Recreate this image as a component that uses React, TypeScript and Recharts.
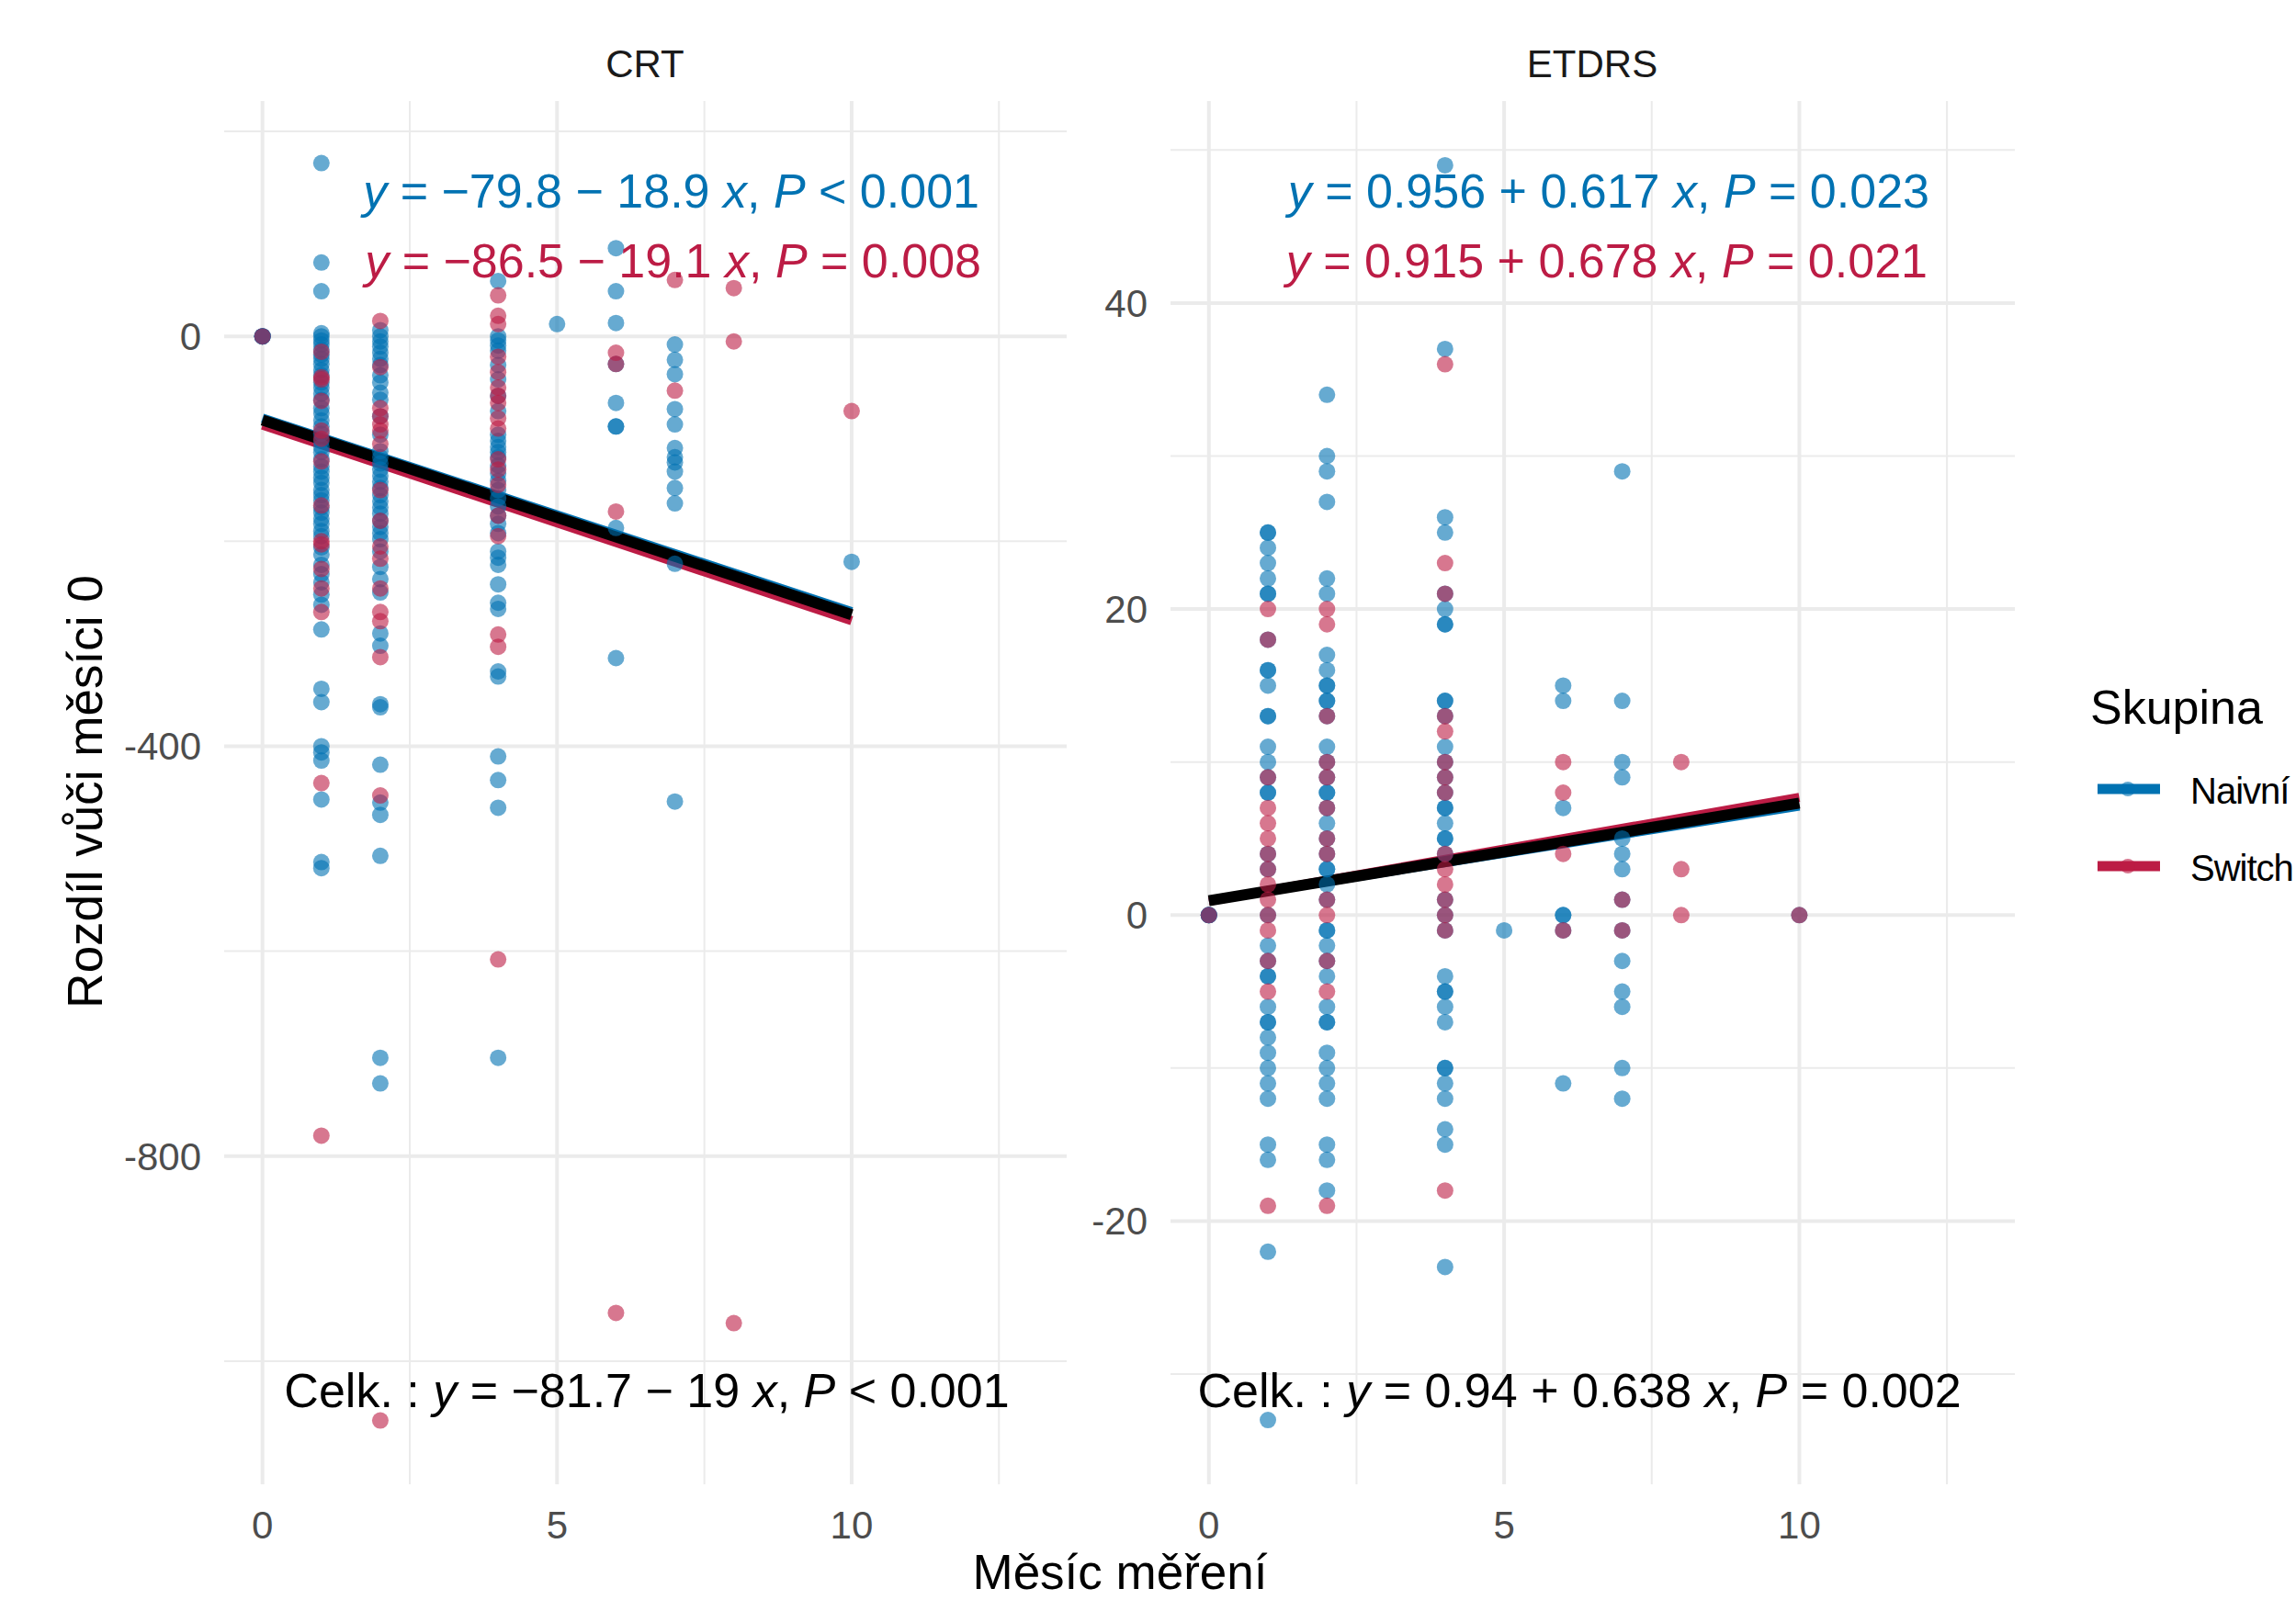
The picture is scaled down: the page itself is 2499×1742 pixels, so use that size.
import React from 'react';
import {
    ScatterChart,
    Scatter,
    XAxis,
    YAxis,
    ReferenceLine
} from 'recharts';

const BLUE = '#0072B2';
const RED = '#BC1C45';
const FONT = '"Liberation Sans", Arial, Helvetica, sans-serif';
const GRID = '#EBEBEB';

// month -> values (CRT, µm difference vs month 0)
const crtNaivni: Record<number, number[]> = {
    0: [0, 0, 0, 0, 0],
    1: [169, 72, 44, 3, 0, -4, -8, -13, -18, -22, -27, -33, -38, -45, -50, -56, -62, -70, -75, -82, -88, -95, -102, -108, -113, -120, -127, -132, -138, -143, -150, -155, -160, -167, -172, -178, -183, -190, -195, -206, -213, -223, -232, -240, -252, -262, -286, -344, -357, -400, -406, -414, -452, -513, -519],
    2: [6, 0, -5, -10, -16, -22, -28, -38, -45, -55, -62, -78, -96, -112, -118, -124, -130, -136, -142, -148, -155, -161, -167, -173, -180, -186, -192, -198, -210, -225, -237, -250, -290, -302, -359, -362, -418, -455, -467, -507, -704, -729],
    4: [54, 0, -4, -9, -14, -28, -42, -58, -73, -96, -102, -108, -113, -118, -126, -134, -141, -150, -158, -166, -175, -183, -192, -210, -216, -223, -242, -260, -266, -327, -332, -410, -433, -460, -704],
    5: [12],
    6: [86, 44, 13, -27, -65, -88, -88, -187, -314],
    7: [-8, -23, -37, -71, -86, -109, -118, -123, -132, -148, -163, -222, -454],
    10: [-220],
};

const crtSwitch: Record<number, number[]> = {
    0: [0],
    1: [-15, -40, -42, -63, -92, -100, -122, -165, -200, -203, -227, -246, -269, -436, -780],
    2: [15, -30, -70, -78, -86, -92, -105, -150, -180, -205, -217, -246, -269, -278, -313, -448, -1058],
    4: [40, 20, 12, -20, -35, -50, -58, -65, -80, -90, -120, -130, -145, -175, -195, -291, -303, -608],
    6: [-16, -27, -171, -953],
    7: [55, -53],
    8: [47, -5, -963],
    10: [-73],
};

// month -> values (ETDRS letters difference vs month 0)
const etdrsNaivni: Record<number, number[]> = {
    0: [0, 0, 0, 0],
    1: [25, 25, 24, 23, 22, 21, 21, 18, 16, 16, 15, 13, 13, 11, 10, 9, 8, 8, 4, 3, 0, -2, -3, -4, -4, -6, -7, -7, -8, -9, -10, -11, -12, -15, -16, -22, -33],
    2: [34, 30, 29, 27, 22, 21, 17, 16, 15, 15, 14, 14, 13, 11, 10, 9, 8, 8, 7, 6, 5, 4, 3, 3, 2, 1, -1, -1, -2, -3, -4, -6, -7, -7, -9, -10, -11, -12, -15, -16, -18],
    4: [49, 37, 26, 25, 21, 20, 19, 19, 14, 14, 13, 11, 10, 9, 8, 7, 7, 6, 5, 5, 4, 1, 0, -1, -4, -5, -5, -6, -7, -10, -10, -11, -12, -14, -15, -23],
    5: [-1],
    6: [15, 14, 7, 0, 0, -1, -11],
    7: [29, 14, 10, 9, 5, 4, 3, 1, -1, -3, -5, -6, -10, -12],
    10: [0],
};

const etdrsSwitch: Record<number, number[]> = {
    0: [0],
    1: [20, 18, 9, 7, 6, 5, 4, 3, 2, 1, 0, -1, -3, -5, -19],
    2: [20, 19, 13, 10, 9, 7, 5, 4, 1, 0, -3, -5, -19],
    4: [36, 23, 21, 13, 12, 10, 9, 8, 4, 3, 2, 1, 0, -1, -18],
    6: [10, 8, 4, -1],
    7: [1, -1],
    8: [10, 3, 0],
    10: [0],
};

// [intercept, slope] of the fitted lines
const crtFits = { naivni: [-79.8, -18.9], switch: [-86.5, -19.1], celk: [-81.7, -19] };
const etdrsFits = { naivni: [0.956, 0.617], switch: [0.915, 0.678], celk: [0.94, 0.638] };
const crtP = ['< 0.001', '= 0.008', '< 0.001'];
const etdrsP = ['= 0.023', '= 0.021', '= 0.002'];

const xTicks = [0, 5, 10];
const xMinor = [2.5, 7.5, 12.5];
const crtTicks = [-800, -400, 0];
const crtMinor = [-1000, -600, -200, 200];
const etdrsTicks = [-20, 0, 20, 40];
const etdrsMinor = [-30, -10, 10, 30, 50];

const toPoints = (d: Record<number, number[]>) =>
    Object.keys(d).flatMap((m) => d[Number(m)].map((v) => ({ x: Number(m), y: v })));

const dot = (color: string) => (props: any) =>
    <circle cx={props.cx} cy={props.cy} r={9} fill={color} fillOpacity={0.6} />;

const num = (v: number) => String(Math.abs(v));

function Eq({ fit, p, color, prefix }: { fit: number[]; p: string; color: string; prefix?: string }) {
    const [a, b] = fit;
    return (
        <span style={{ color }}>
            {prefix}
            <i>y</i> = {a < 0 ? '\u2212' : ''}{num(a)} {b < 0 ? '\u2212' : '+'} {num(b)} <i>x</i>, <i>P</i> {p}
        </span>
    );
}

interface PanelProps {
    left: number;
    width: number;
    axisWidth: number;
    naivni: Record<number, number[]>;
    sw: Record<number, number[]>;
    fits: { naivni: number[]; switch: number[]; celk: number[] };
    yDomain: [number, number];
    yTicks: number[];
    yMinor: number[];
}

function Panel({ left, width, axisWidth, naivni, sw, fits, yDomain, yTicks, yMinor }: PanelProps) {
    const seg = (f: number[]) => [{ x: 0, y: f[0] }, { x: 10, y: f[0] + 10 * f[1] }];
    const tick = { fill: '#4D4D4D', fontSize: 42, fontFamily: FONT };
    return (
        <div style={{ position: 'absolute', left, top: 0 }}>
            <ScatterChart width={width} height={1742} margin={{ top: 110, right: 0, bottom: 0, left: 0 }}>
                <XAxis
                    type="number"
                    dataKey="x"
                    domain={[-0.65, 13.65]}
                    ticks={xTicks}
                    interval={0}
                    allowDataOverflow
                    axisLine={false}
                    tickLine={false}
                    tickSize={0}
                    tickMargin={29}
                    height={126}
                    tick={tick}
                />
                <YAxis
                    type="number"
                    dataKey="y"
                    domain={yDomain}
                    ticks={yTicks}
                    interval={0}
                    allowDataOverflow
                    axisLine={false}
                    tickLine={false}
                    tickSize={0}
                    tickMargin={25}
                    width={axisWidth}
                    tick={tick}
                />
                {/* minor grid */}
                {xMinor.map((v) => (
                    <ReferenceLine key={'vx' + v} x={v} stroke={GRID} strokeWidth={2} />
                ))}
                {yMinor.map((v) => (
                    <ReferenceLine key={'hy' + v} y={v} stroke={GRID} strokeWidth={2} />
                ))}
                {/* major grid */}
                {xTicks.map((v) => (
                    <ReferenceLine key={'VX' + v} x={v} stroke={GRID} strokeWidth={4} />
                ))}
                {yTicks.map((v) => (
                    <ReferenceLine key={'HY' + v} y={v} stroke={GRID} strokeWidth={4} />
                ))}
                <Scatter data={toPoints(naivni)} shape={dot(BLUE)} isAnimationActive={false} />
                <Scatter data={toPoints(sw)} shape={dot(RED)} isAnimationActive={false} />
                <ReferenceLine segment={seg(fits.naivni)} stroke={BLUE} strokeWidth={10} />
                <ReferenceLine segment={seg(fits.switch)} stroke={RED} strokeWidth={10} />
                <ReferenceLine segment={seg(fits.celk)} stroke="#000" strokeWidth={12} />
            </ScatterChart>
        </div>
    );
}

const abs = (left: number, top: number, extra: React.CSSProperties = {}): React.CSSProperties => ({
    position: 'absolute',
    left,
    top,
    lineHeight: 1,
    whiteSpace: 'nowrap',
    ...extra,
});

export default function App() {
    return (
        <div
            style={{
                position: 'absolute',
                left: 0,
                top: 0,
                width: 2499,
                height: 1742,
                overflow: 'hidden',
                background: '#fff',
                fontFamily: FONT,
            }}
        >
            <Panel
                left={0}
                width={1161}
                axisWidth={244}
                naivni={crtNaivni}
                sw={crtSwitch}
                fits={crtFits}
                yDomain={[-1120.2, 229.6]}
                yTicks={crtTicks}
                yMinor={crtMinor}
            />
            <Panel
                left={1154}
                width={1039}
                axisWidth={120}
                naivni={etdrsNaivni}
                sw={etdrsSwitch}
                fits={etdrsFits}
                yDomain={[-37.2, 53.2]}
                yTicks={etdrsTicks}
                yMinor={etdrsMinor}
            />

            {/* strip titles */}
            <div style={abs(702, 49, { fontSize: 42, color: '#1A1A1A', transform: 'translateX(-50%)' })}>CRT</div>
            <div style={abs(1733, 49, { fontSize: 42, color: '#1A1A1A', transform: 'translateX(-50%)' })}>ETDRS</div>

            {/* fitted equations */}
            <div style={abs(0, 182, { fontSize: 52, right: 2499 - 1066, left: undefined })}>
                <Eq fit={crtFits.naivni} p={crtP[0]} color={BLUE} />
            </div>
            <div style={abs(0, 258, { fontSize: 52, right: 2499 - 1068, left: undefined })}>
                <Eq fit={crtFits.switch} p={crtP[1]} color={RED} />
            </div>
            <div style={abs(704, 1488, { fontSize: 52, transform: 'translateX(-50%)' })}>
                <Eq fit={crtFits.celk} p={crtP[2]} color="#000" prefix="Celk. : " />
            </div>
            <div style={abs(0, 182, { fontSize: 52, right: 2499 - 2100, left: undefined })}>
                <Eq fit={etdrsFits.naivni} p={etdrsP[0]} color={BLUE} />
            </div>
            <div style={abs(0, 258, { fontSize: 52, right: 2499 - 2098, left: undefined })}>
                <Eq fit={etdrsFits.switch} p={etdrsP[1]} color={RED} />
            </div>
            <div style={abs(1719, 1488, { fontSize: 52, transform: 'translateX(-50%)' })}>
                <Eq fit={etdrsFits.celk} p={etdrsP[2]} color="#000" prefix="Celk. : " />
            </div>

            {/* axis titles */}
            <div style={abs(1219, 1693, { fontSize: 53, lineHeight: 0.7, color: '#000', transform: 'translateX(-50%)' })}>
                Měsíc měření
            </div>
            <div
                style={abs(92, 862, {
                    fontSize: 53,
                    color: '#000',
                    transform: 'translate(-50%, -50%) rotate(-90deg)',
                })}
            >
                Rozdíl vůči měsíci 0
            </div>

            {/* legend */}
            <div style={abs(2275, 744, { fontSize: 52, color: '#000' })}>Skupina</div>
            <svg style={{ position: 'absolute', left: 2270, top: 830 }} width={100} height={130}>
                <line x1={13} x2={81} y1={29} y2={29} stroke={BLUE} strokeWidth={11} />
                <circle cx={46} cy={29} r={8} fill={BLUE} fillOpacity={0.6} />
                <line x1={13} x2={81} y1={113} y2={113} stroke={RED} strokeWidth={11} />
                <circle cx={46} cy={113} r={8} fill={RED} fillOpacity={0.6} />
            </svg>
            <div style={abs(2384, 841, { fontSize: 40, letterSpacing: -1, color: '#000' })}>Naivní</div>
            <div style={abs(2384, 925, { fontSize: 40, letterSpacing: -1, color: '#000' })}>Switch</div>
        </div>
    );
}
